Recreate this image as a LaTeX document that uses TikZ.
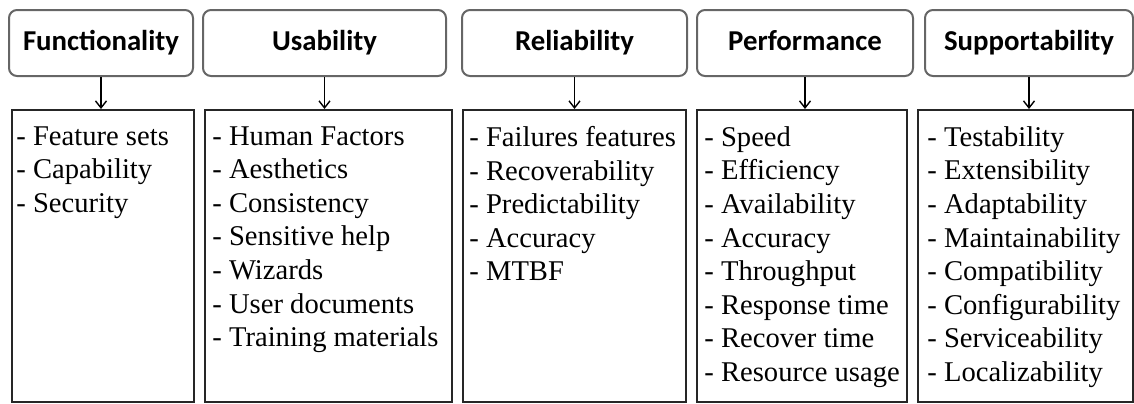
\documentclass[tikz,border=0pt]{standalone}
\usepackage{fontspec}
\setmainfont{Liberation Serif}
\newfontfamily\headfont{Carlito}
\usepackage{tikz}
\usetikzlibrary{calc,arrows.meta}
\tikzstyle{category} = [rectangle, rounded corners=4pt, minimum height=33pt, inner sep=0pt, text height=10pt, text depth=3pt, text centered, draw=black!60, line width=1pt, font=\headfont\bfseries\fontsize{14.4}{17}\selectfont]
\tikzstyle{listbox} = [rectangle, minimum height=146pt, inner sep=0pt, draw=black!85, line width=1pt]
\tikzstyle{items} = [anchor=north west, align=left, inner sep=0pt, font=\fontsize{14.3}{16.8}\selectfont]
\tikzstyle{arrow} = [-{Straight Barb[length=3.5pt,width=5.5pt]}, line width=0.7pt]

\begin{document}
\begin{tikzpicture}[x=0.5pt, y=-0.5pt]
	\useasboundingbox (0,0) rectangle (1134,403);
	% categories
	\node (cat1) [category, minimum width=92pt] at (101,43) {Functionality};
	\node (cat2) [category, minimum width=121.5pt] at (324.5,43) {Usability};
	\node (cat3) [category, minimum width=112.5pt] at (574.5,43) {Reliability};
	\node (cat4) [category, minimum width=108pt] at (805,43) {Performance};
	\node (cat5) [category, minimum width=104pt] at (1029,43) {Supportability};
	% boxes
	\node (box1) [listbox, minimum width=91pt] at (103,256) {};
	\node (box2) [listbox, minimum width=123.5pt] at (328.5,256) {};
	\node (box3) [listbox, minimum width=111.5pt] at (574.5,256) {};
	\node (box4) [listbox, minimum width=105pt] at (802,256) {};
	\node (box5) [listbox, minimum width=107.5pt] at (1025.5,256) {};
	% items
	\node (list1) [items] at ($(box1.north west)+(5,17)$) {- Feature sets\\- Capability\\- Security};
	\node (list2) [items] at ($(box2.north west)+(8,17)$) {- Human Factors\\- Aesthetics\\- Consistency\\- Sensitive help\\- Wizards\\- User documents\\- Training materials};
	\node (list3) [items] at ($(box3.north west)+(7,17)$) {- Failures features\\- Recoverability\\- Predictability\\- Accuracy\\- MTBF};
	\node (list4) [items] at ($(box4.north west)+(8,17)$) {- Speed\\- Efficiency\\- Availability\\- Accuracy\\- Throughput\\- Response time\\- Recover time\\- Resource usage};
	\node (list5) [items] at ($(box5.north west)+(10,17)$) {- Testability\\- Extensibility\\- Adaptability\\- Maintainability\\- Compatibility\\- Configurability\\- Serviceability\\- Localizability};
	% arrows
	\draw [arrow](cat1.south) -- (cat1.south |- box1.north);
	\draw [arrow](cat2.south) -- (cat2.south |- box2.north);
	\draw [arrow](cat3.south) -- (cat3.south |- box3.north);
	\draw [arrow](cat4.south) -- (cat4.south |- box4.north);
	\draw [arrow](cat5.south) -- (cat5.south |- box5.north);
\end{tikzpicture}
\end{document}
